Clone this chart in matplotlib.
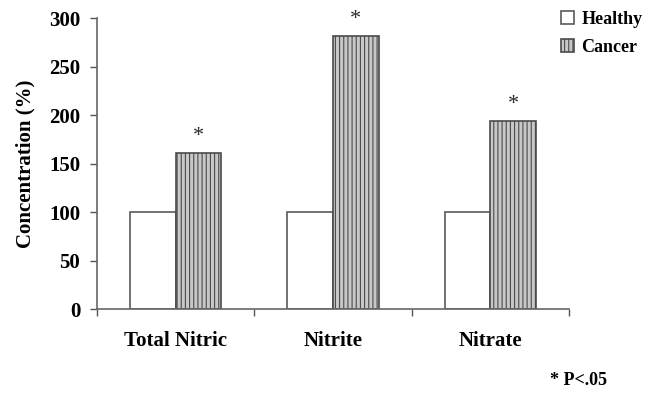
import numpy as np
import matplotlib.pyplot as plt
import matplotlib as mpl

categories = ['Total Nitric', 'Nitrite', 'Nitrate']
healthy = [100, 100, 100]
cancer = [161, 282, 194]
yticks = [0, 50, 100, 150, 200, 250, 300]

plt.rcParams['font.family'] = ['Liberation Serif', 'DejaVu Serif']
mpl.rcParams['hatch.color'] = '#ababab'
mpl.rcParams['hatch.linewidth'] = 0.8

fig = plt.figure(figsize=(6.48, 3.94), dpi=100)
ax = fig.add_axes([0.1497, 0.2157, 0.7284, 0.7383])

x = np.arange(len(categories)) + 0.5
w = 0.29
ax.bar(x - w / 2, healthy, w, color='white', edgecolor='#5a5a5a',
       linewidth=1.2, label='Healthy')
ax.bar(x + w / 2, cancer, w, color='#c8c8c8', edgecolor='#4a4a4a',
       linewidth=1.2, hatch='||||', label='Cancer')

# significance markers
for xi, v in zip(x, cancer):
    ax.text(xi + w / 2, v + 7, '*', ha='center', va='bottom',
            fontsize=16, color='#2a2a2a')

ax.set_xlim(0, 3)
ax.set_ylim(0, 300)
ax.set_yticks(yticks)
ax.set_yticklabels([str(t) for t in yticks], fontsize=15, fontweight='bold')
ax.set_xticks([0, 1, 2, 3])
ax.set_xticklabels([])
ax.set_xticks(x, minor=True)
ax.set_xticklabels(categories, minor=True, fontsize=15, fontweight='bold')
ax.tick_params(axis='x', which='minor', length=0, pad=16)
ax.tick_params(axis='both', which='major', length=5, width=1, color='#555555')
ax.tick_params(axis='y', pad=7)
for s in ['top', 'right']:
    ax.spines[s].set_visible(False)
for s in ['left', 'bottom']:
    ax.spines[s].set_color('#666666')
    ax.spines[s].set_linewidth(1.2)

ax.set_ylabel('Concentration (%)', fontsize=15, fontweight='bold', labelpad=10)

handles, labels = ax.get_legend_handles_labels()
fig.legend(handles, labels, loc='upper left', bbox_to_anchor=(0.865, 0.972),
           frameon=False, borderpad=0, borderaxespad=0,
           prop={'size': 13, 'weight': 'bold'}, handlelength=0.75,
           handleheight=0.75, handletextpad=0.4, labelspacing=0.6)

fig.text(0.849, 0.022, '* P<.05', fontsize=13, fontweight='bold')

fig.savefig('out.png', dpi=100)
